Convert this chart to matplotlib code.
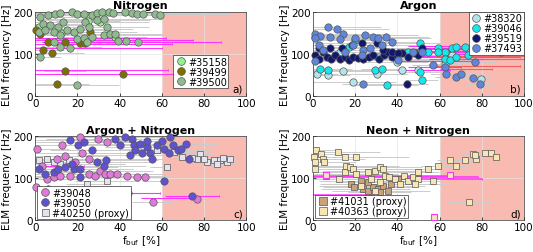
import matplotlib
matplotlib.use("Agg")
import matplotlib.pyplot as plt

# ---- panel a: Nitrogen ----
a_39500_x = [2.4, 6.3, 9.5, 11.8, 17.4, 19.7, 22.9, 26.9, 29.2, 31.6, 34.8, 37.1, 42.6, 45.8, 48.2, 51.3, 56.9, 59,
             3.9, 7.1, 11, 13.4, 15, 18.2, 21.3, 23.7, 25.3, 29.2, 32.4, 34, 1.6, 4.7, 8.7, 11.8, 32.4, 35.5, 37.9,
             19.7, 22.9, 16.6, 11.8, 8.7, 24.5, 26.9, 39.4, 43, 48.8, 2.4, 19.7]
a_39500_y = [188, 192, 196, 198, 200, 196, 194, 192, 198, 200, 200, 198, 200, 198, 196, 196, 196, 192,
             172, 168, 164, 176, 156, 152, 160, 176, 164, 180, 184, 164, 152, 156, 152, 144, 144, 148, 148,
             136, 138, 113, 117, 128, 128, 140, 130, 130, 128, 93, 27]
a_39500_e = [20, 25, 30, 20, 35, 30, 25, 30, 35, 30, 35, 30, 35, 30, 35, 30, 35, 30,
             20, 25, 20, 25, 20, 30, 25, 30, 20, 25, 30, 20, 15, 20, 25, 20, 30, 25, 20,
             20, 15, 15, 20, 15, 20, 15, 20, 15, 15, 10, 20]
a_39499_x = [0.5, 2.4, 3.6, 7.9, 14.2, 10.4, 41.5, 6.3, 14.2, 21.3, 26.0, 23.7]
a_39499_y = [156, 148, 110, 101, 59, 29, 51, 128, 128, 125, 152, 125]
a_39499_e = [10, 15, 10, 15, 10, 15, 10, 15, 10, 15, 20, 15]
a_35158_x = [30.5, 25, 2, 38, 12]
a_35158_y = [176, 178, 165, 140, 150]
a_35158_e = [20, 15, 10, 15, 10]
a_mag_y = [138, 132, 128.6, 124.6, 114, 61, 51]
a_mag_lo = [0, 0, 3, 0, 0, 0, 0]
a_mag_hi = [62, 75, 88, 65, 60, 63, 75]

# ---- panel b: Argon ----
b_37493_x = [0.8, 1.1, 3.4, 7.4, 8.2, 11.3, 14.5, 13, 1.1, 2.7, 5, 20, 19.2, 24.7, 28.7, 31, 34.8, 23.9, 27, 23.2,
             40.5, 47.6, 51.5, 57, 62.5, 63.3, 68, 70.4, 76.7, 75.9, 79, 86, 89.3, 23.9, 15.3, 32.6, 37.3]
b_37493_y = [148, 82, 143, 164, 140, 160, 148, 135, 137, 121, 109, 137, 121, 144, 140, 137, 140, 109, 113, 97,
             85, 105, 105, 73, 69, 53, 45, 53, 81, 43, 29, 111, 105, 29, 105, 121, 129]
b_37493_e = [15, 10, 20, 25, 20, 25, 20, 15, 15, 20, 15, 25, 20, 25, 20, 25, 20, 15, 20, 15,
             15, 10, 15, 10, 8, 8, 10, 8, 10, 8, 6, 8, 6, 10, 15, 20, 15]
b_39519_x = [0.8, 2.7, 5, 6.6, 8.8, 10.5, 12.9, 15.3, 16.9, 19.2, 21.6, 23.9, 26.4, 28.7, 31.5, 33.9, 35.4,
             37.3, 39.7, 42, 45.2, 48.3, 49.9, 51.5, 44.4, 8.2, 13.7, 18.4, 23.2, 30.2, 33.4, 37.3, 40.5, 2.7]
b_39519_y = [97, 89, 105, 93, 89, 97, 89, 93, 85, 93, 90, 89, 93, 97, 89, 97, 105,
             93, 97, 101, 93, 101, 97, 113, 29, 113, 113, 121, 125, 125, 109, 105, 101, 113]
b_39519_e = [15, 20, 15, 20, 25, 20, 25, 20, 15, 20, 25, 20, 15, 20, 25, 20, 15,
             20, 25, 20, 15, 20, 15, 10, 10, 20, 15, 20, 25, 20, 15, 20, 15, 10]
b_39046_x = [0.8, 3.4, 7.4, 16.9, 20, 29.4, 32.6, 34.9, 50.7, 51.5, 50.7, 59.4, 62.5, 65.7, 68, 71.9, 73.5,
             62.5, 64.9, 59.4, 54.6, 45.2, 68]
b_39046_y = [140, 65, 61, 117, 133, 61, 65, 27, 57, 37, 125, 113, 105, 113, 117, 117, 97,
             89, 85, 105, 105, 105, 93]
b_39046_e = [10, 15, 10, 15, 20, 15, 10, 15, 10, 8, 10, 8, 10, 8, 10, 8, 10,
             8, 10, 8, 10, 10, 8]
b_38320_x = [1.9, 14.5, 19.2, 30.2, 42, 49.9, 79.8, 7.4, 12.9, 31, 39.7, 65.7, 62.5, 49.1]
b_38320_y = [53, 59, 33, 53, 61, 61, 41, 49, 105, 93, 81, 97, 77, 101]
b_38320_e = [10, 15, 20, 15, 10, 8, 6, 10, 15, 20, 15, 8, 8, 10]
b_mag_y = [120, 115, 112, 108, 104, 100, 96, 92, 88, 83, 70, 62]
b_mag_lo = [45, 50, 40, 55, 47, 60, 42, 50, 55, 38, 45, 40]
b_mag_hi = [80, 90, 95, 85, 92, 95, 88, 98, 80, 75, 70, 65]
b_red_y = [95, 88, 72, 65]
b_red_lo = [58, 62, 55, 60]
b_red_hi = [100, 100, 98, 85]

# ---- panel c: Argon + Nitrogen ----
c_39048_x = [0.8, 0.5, 3.2, 5.5, 8.7, 11.8, 14.2, 16.6, 18.9, 21.3, 22, 25.3, 28.4, 30.8, 33.2, 35.5, 38.7,
             43.4, 48.3, 52.1, 56, 76.6, 30, 34, 12.6, 10.3, 25.3]
c_39048_y = [170, 78, 130, 98, 102, 106, 152, 106, 138, 197, 161, 110, 106, 118, 110, 110, 110,
             106, 102, 102, 42, 50, 194, 186, 178, 146, 146]
c_39048_e = [15, 10, 20, 15, 20, 25, 20, 25, 20, 25, 20, 25, 20, 25, 20, 25, 20,
             20, 15, 15, 10, 10, 25, 20, 25, 20, 20]
c_39050_x = [1.6, 4.7, 8.7, 11, 14.2, 18.2, 21.3, 6.3, 16.6, 20.5, 22.9, 26.8, 29.2, 32.6, 33.4,
             37.9, 40.3, 42.7, 45.8, 46.6, 47.4, 49.8, 50.6, 53, 54.5, 55.3, 57.7, 60.8, 63.2, 64, 65.4,
             67.7, 69.3, 71.6, 73, 60.8, 44.2, 74.2, 21.3, 17.4, 53, 60, 45]
c_39050_y = [122, 110, 114, 122, 126, 122, 122, 74, 190, 178, 186, 166, 138, 130, 142,
             194, 178, 197, 194, 178, 166, 181, 161, 173, 161, 146, 178, 169, 161, 197, 178,
             166, 169, 181, 146, 94, 64, 58, 102, 134, 189, 189, 154]
c_39050_e = [15, 20, 25, 20, 25, 20, 25, 10, 25, 30, 25, 20, 25, 20, 25,
             30, 25, 30, 25, 20, 25, 30, 25, 20, 25, 20, 25, 20, 15, 20, 15,
             15, 20, 15, 10, 10, 15, 12, 20, 25, 25, 20, 25]
c_40250_x = [1.6, 5.5, 8.7, 15.8, 24.5, 34, 11.8, 57.7, 62.4, 69.5, 78.2, 81.4, 84.5, 87.7, 90.8, 92.4,
             79.8, 76.8, 74.2, 86, 89, 65.6]
c_40250_y = [142, 146, 138, 142, 86, 94, 134, 166, 126, 150, 158, 138, 142, 142, 138, 146,
             146, 146, 147, 134, 149, 162]
c_40250_e = [10, 15, 20, 15, 10, 15, 20, 10, 8, 8, 6, 6, 5, 5, 5, 5, 6, 6, 8, 5, 5, 8]
c_mag_y = [128, 64.5, 58, 52]
c_mag_lo = [1, 29, 61.6, 50]
c_mag_hi = [23, 59, 86.9, 76.6]

# ---- panel d: Neon + Nitrogen ----
d_41031_x = [18.2, 23.7, 26.1, 28.4, 30.8, 33.2, 31.6, 35.5, 26.1, 22.9, 40.3, 37.2, 19.7]
d_41031_y = [86, 74, 70, 78, 74, 82, 66, 70, 90, 94, 98, 86, 78]
d_41031_e = [15, 20, 15, 20, 15, 20, 15, 20, 15, 20, 15, 20, 15]
d_40363_x = [0.5, 0.8, 1.6, 3.9, 4.7, 5.5, 0.8, 6.3, 11.8, 12.6, 15, 15.8, 15, 17.4, 19, 20.5, 20.5, 26.1,
             27.6, 29.2, 31.6, 33.2, 34, 36.3, 38.7, 41.1, 43.4, 45, 47.4, 49.8, 49.8, 48.2, 56.9, 59.2,
             54.5, 64.8, 67.9, 71.9, 75.8, 77.4, 81.4, 84.5, 86.9, 76.6, 74.2, 22.9, 31.6, 29.2]
d_40363_y = [150, 138, 166, 158, 146, 138, 122, 106, 162, 98, 150, 130, 114, 126, 122, 150, 110, 114,
             98, 118, 126, 122, 106, 102, 98, 86, 106, 94, 102, 98, 114, 86, 94, 130,
             122, 142, 130, 142, 158, 146, 160, 160, 151, 154, 44, 82, 90, 70]
d_40363_e = [10, 15, 10, 15, 20, 15, 10, 15, 20, 15, 20, 25, 20, 25, 20, 25, 20, 25,
             20, 25, 20, 25, 20, 25, 20, 15, 20, 15, 20, 15, 10, 15, 10, 8,
             10, 6, 6, 5, 5, 5, 4, 4, 4, 5, 10, 20, 15, 20]
d_pink_x = [6.3, 64.8, 57.3]
d_pink_y = [108, 108, 7]
d_mag_y = [106, 102, 98, 60]
d_mag_lo = [0, 0, 40, 0]
d_mag_hi = [65.5, 78, 80, 29]

plt.rcParams['font.family'] = ['DejaVu Sans']
plt.rcParams['font.size'] = 7

fig = plt.figure(figsize=(5.33, 2.53), dpi=100)
ax_a = fig.add_axes([0.066, 0.617, 0.396, 0.332])
ax_b = fig.add_axes([0.587, 0.617, 0.396, 0.332])
ax_c = fig.add_axes([0.066, 0.126, 0.396, 0.332])
ax_d = fig.add_axes([0.587, 0.126, 0.396, 0.332])

EDGE = '#555555'
MS = 5.3


def setup(ax, title, letter, xlabel):
    ax.axvspan(60, 100, color='#f9bab1', zorder=0, lw=0)
    ax.set_xlim(0, 100)
    ax.set_ylim(0, 200)
    ax.set_xticks([0, 20, 40, 60, 80, 100])
    ax.set_yticks([0, 100, 200])
    ax.grid(True, color='#e4e4e4', lw=0.5, zorder=0.5)
    ax.set_axisbelow(True)
    ax.tick_params(direction='in', length=2, width=0.5, pad=1.5, labelsize=7.5)
    for s in ax.spines.values():
        s.set_linewidth(0.5)
        s.set_color('#333333')
    ax.set_title(title, fontsize=8, fontweight='bold', pad=2.5)
    ax.set_ylabel('ELM frequency [Hz]', fontsize=7.5, labelpad=1)
    if xlabel:
        ax.set_xlabel(r'f$_{\rm buf}$ [%]', fontsize=7.5, labelpad=0.5)
    ax.text(98.5, 5, letter, ha='right', va='bottom', fontsize=7.5)


def series(ax, x, y, e, color, label, marker='o', ms=MS):
    ax.errorbar(x, y, xerr=e, fmt='none', ecolor='#cccccc', elinewidth=0.7, capsize=0, zorder=1)
    ax.plot(x, y, marker, ms=ms, mfc=color, mec=EDGE, mew=0.5, ls='none', label=label, zorder=3,
            clip_on=False)


def bars(ax, y, lo, hi, color, lw=0.8):
    ax.hlines(y, lo, hi, colors=color, lw=lw, zorder=2)
    ax.plot(hi, y, '|', color=color, ms=2, mew=0.7, zorder=2)


def legend(ax, loc, anchor, handles=None, labels=None):
    if handles is None:
        handles, labels = ax.get_legend_handles_labels()
    lg = ax.legend(handles, labels, loc=loc, bbox_to_anchor=anchor, fontsize=7, handletextpad=0.1,
                   borderpad=0.15, labelspacing=0.0, handlelength=1.3, borderaxespad=0.0,
                   fancybox=False, framealpha=1, markerscale=1.05)
    lg.get_frame().set_linewidth(0.5)
    lg.get_frame().set_edgecolor('#333333')


# a
setup(ax_a, 'Nitrogen', 'a)', False)
bars(ax_a, a_mag_y, a_mag_lo, a_mag_hi, '#ff33ff')
series(ax_a, a_35158_x, a_35158_y, a_35158_e, '#98ee90', '#35158')
series(ax_a, a_39499_x, a_39499_y, a_39499_e, '#7d7000', '#39499')
series(ax_a, a_39500_x, a_39500_y, a_39500_e, '#8fbc8f', '#39500')
legend(ax_a, 'lower right', (0.915, 0.09))

# b
setup(ax_b, 'Argon', 'b)', False)
bars(ax_b, b_mag_y, b_mag_lo, b_mag_hi, '#ff33ff')
bars(ax_b, b_red_y, b_red_lo, b_red_hi, '#f06060')
series(ax_b, b_38320_x, b_38320_y, b_38320_e, '#b4e4ea', '#38320')
series(ax_b, b_39046_x, b_39046_y, b_39046_e, '#19e6ea', '#39046')
series(ax_b, b_39519_x, b_39519_y, b_39519_e, '#10186e', '#39519')
series(ax_b, b_37493_x, b_37493_y, b_37493_e, '#5f86dc', '#37493')
legend(ax_b, 'upper right', (1.0, 1.0))

# c
setup(ax_c, 'Argon + Nitrogen', 'c)', True)
bars(ax_c, c_mag_y, c_mag_lo, c_mag_hi, '#ff33ff')
series(ax_c, c_40250_x, c_40250_y, c_40250_e, '#e4e4f0', '#40250 (proxy)', marker='s', ms=4.8)
series(ax_c, c_39048_x, c_39048_y, c_39048_e, '#e07ad8', '#39048')
series(ax_c, c_39050_x, c_39050_y, c_39050_e, '#5e52d0', '#39050')
h, l = ax_c.get_legend_handles_labels()
legend(ax_c, 'lower left', (0.01, 0.01), [h[1], h[2], h[0]], [l[1], l[2], l[0]])

# d
setup(ax_d, 'Neon + Nitrogen', 'd)', True)
bars(ax_d, d_mag_y, d_mag_lo, d_mag_hi, '#ff33ff', lw=1.1)
series(ax_d, d_41031_x, d_41031_y, d_41031_e, '#c8a27a', '#41031 (proxy)', marker='s', ms=5)
series(ax_d, d_40363_x, d_40363_y, d_40363_e, '#f6e6b4', '#40363 (proxy)', marker='s', ms=5)
ax_d.plot(d_pink_x, d_pink_y, 's', ms=4.5, mfc='#f6e6b4', mec='#ff33ff', mew=0.8, ls='none', zorder=3)
legend(ax_d, 'lower left', (0.01, 0.03))

fig.savefig('out.png', dpi=100)
